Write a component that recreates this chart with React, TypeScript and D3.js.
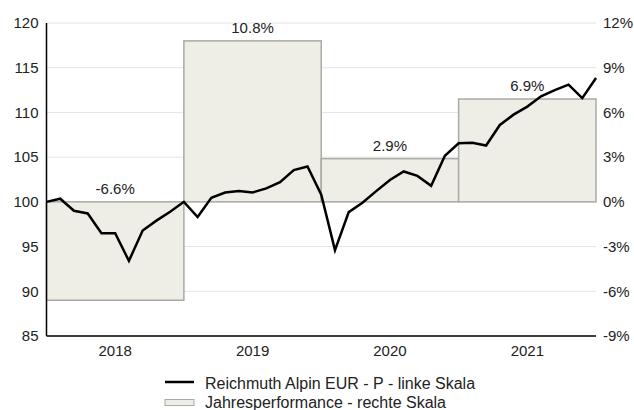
import React from "react";
import * as d3 from "d3";

const years = ["2018", "2019", "2020", "2021"];
const yearPerf = [-6.6, 10.8, 2.9, 6.9];
// fund index, ~10 observations per year
const navValues = [
  100.0, 100.35, 99.0, 98.7, 96.5, 96.5, 93.4, 96.8, 97.9, 98.9,
  100.0, 98.3, 100.45, 101.05, 101.2, 101.05, 101.5, 102.2, 103.55, 103.95,
  100.8, 94.6, 98.85, 99.9, 101.2, 102.45, 103.4, 102.9, 101.8, 105.15,
  106.55, 106.6, 106.3, 108.6, 109.75, 110.65, 111.8, 112.5, 113.1, 111.6,
  113.85,
];
const leftTicks = [85, 90, 95, 100, 105, 110, 115, 120];
const rightTicks = [-9, -6, -3, 0, 3, 6, 9, 12];

const W = 634;
const H = 410;
const margin = { top: 23, right: 38, bottom: 74, left: 46.5 };
const font = "Arial, 'Liberation Sans', sans-serif";

export default function App() {
  const width = W - margin.left - margin.right;
  const height = H - margin.top - margin.bottom;

  const x = d3.scaleLinear().domain([0, navValues.length - 1]).range([0, width]);
  const yBand = d3.scaleBand().domain(years).range([0, width]);
  const yL = d3.scaleLinear().domain([85, 120]).range([height, 0]);
  const yR = d3.scaleLinear().domain([-9, 12]).range([height, 0]);

  const line = d3
    .line<number>()
    .x((d, i) => x(i))
    .y((d) => yL(d));

  return (
    <svg
      width={W}
      height={H}
      style={{ position: "absolute", left: 0, top: 0, fontFamily: font }}
    >
      <g transform={`translate(${margin.left},${margin.top})`}>
        {leftTicks.map((t) => (
          <line
            key={"g" + t}
            x1={0}
            x2={width}
            y1={yL(t)}
            y2={yL(t)}
            stroke="#e4e4e4"
            strokeWidth={1}
          />
        ))}
        {years.map((yr, i) => {
          const v = yearPerf[i];
          const top = yR(Math.max(0, v));
          const bot = yR(Math.min(0, v));
          return (
            <g key={yr}>
              <rect
                x={yBand(yr)}
                y={top}
                width={yBand.bandwidth()}
                height={bot - top}
                fill="#efeee6"
                stroke="#aaaaa4"
                strokeWidth={1.5}
              />
              <text
                x={(yBand(yr) as number) + yBand.bandwidth() / 2}
                y={top - 8}
                textAnchor="middle"
                fontSize={15}
                fill="#222"
              >
                {v.toFixed(1) + "%"}
              </text>
              <text
                x={(yBand(yr) as number) + yBand.bandwidth() / 2}
                y={height + 20}
                textAnchor="middle"
                fontSize={15}
                fill="#222"
              >
                {yr}
              </text>
            </g>
          );
        })}
        <path
          d={line(navValues) || ""}
          fill="none"
          stroke="#000"
          strokeWidth={2.5}
          strokeLinejoin="miter"
        />
        <line x1={0} x2={0} y1={0} y2={height} stroke="#000" strokeWidth={1.5} />
        <line x1={0} x2={width} y1={height} y2={height} stroke="#000" strokeWidth={1.5} />
        {leftTicks.map((t) => (
          <text
            key={"l" + t}
            x={-8}
            y={yL(t)}
            dy="0.35em"
            textAnchor="end"
            fontSize={15}
            fill="#222"
          >
            {t}
          </text>
        ))}
        {rightTicks.map((t) => (
          <text
            key={"r" + t}
            x={width + 7}
            y={yR(t)}
            dy="0.35em"
            textAnchor="start"
            fontSize={15}
            fill="#222"
          >
            {t + "%"}
          </text>
        ))}
      </g>
      <g transform="translate(165,0)">
        <line x1={0} x2={29} y1={382} y2={382} stroke="#000" strokeWidth={2.5} />
        <text x={40} y={383} dy="0.35em" fontSize={16} fill="#222">
          Reichmuth Alpin EUR - P - linke Skala
        </text>
        <rect x={0} y={399.5} width={29} height={6} fill="#efeee6" stroke="#aaaaa4" strokeWidth={1} />
        <text x={40} y={402} dy="0.35em" fontSize={16} fill="#222">
          Jahresperformance - rechte Skala
        </text>
      </g>
    </svg>
  );
}
